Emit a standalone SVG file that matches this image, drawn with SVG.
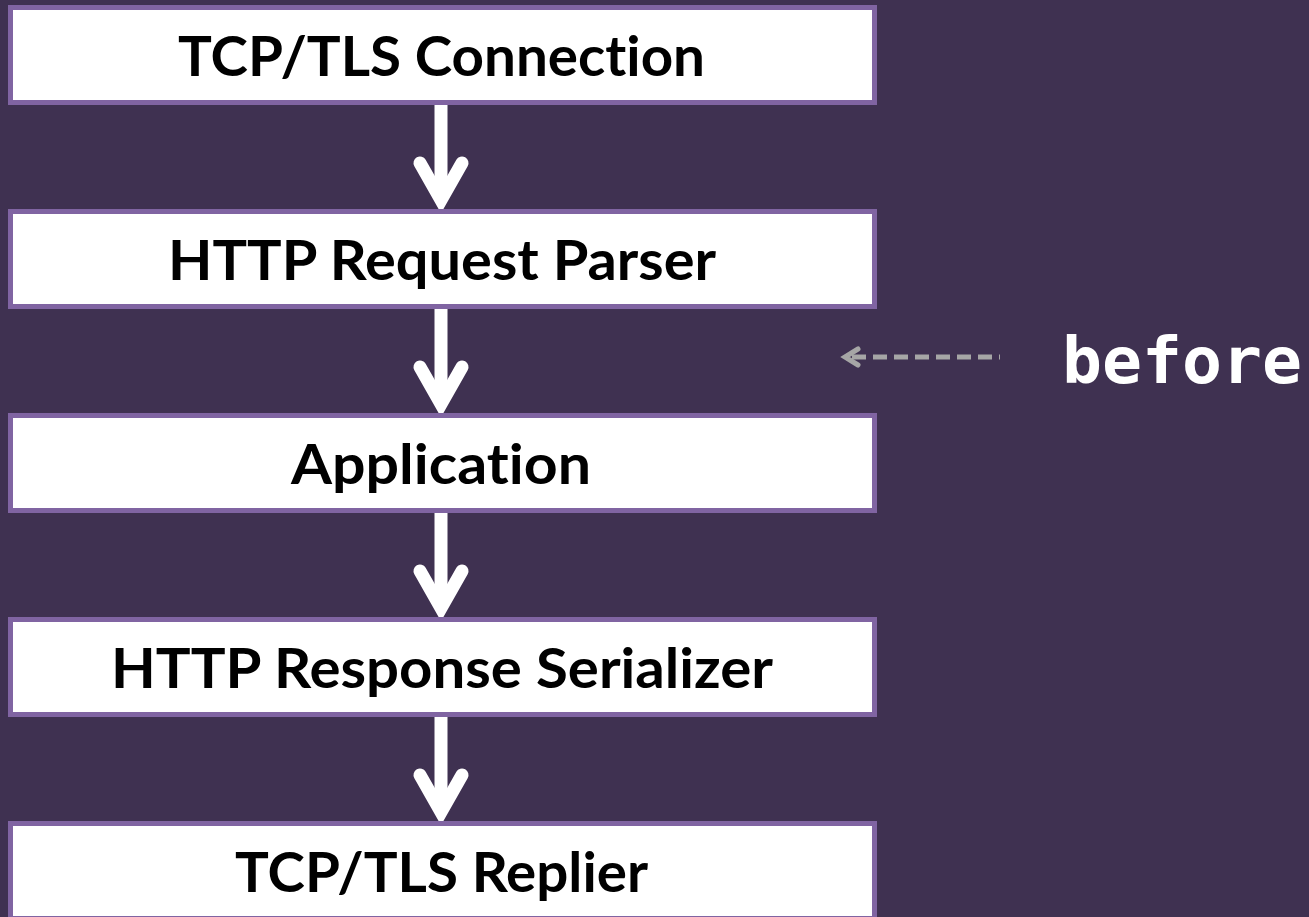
<svg xmlns="http://www.w3.org/2000/svg" width="1309" height="917" viewBox="0 0 1309 917">
<style>
.box{fill:#ffffff;stroke:#8064A2;stroke-width:5}
.lbl{font-family:Lato,"Open Sans","Liberation Sans",sans-serif;font-weight:bold;font-size:56px;fill:#000000;text-anchor:middle;font-variant-ligatures:none;font-feature-settings:"liga" 0}
.conn{stroke:#ffffff;stroke-width:13;fill:none;stroke-linejoin:miter}
.head{stroke:#ffffff;stroke-width:13;fill:none;stroke-linecap:round;stroke-linejoin:miter}
</style>
<rect x="0" y="0" width="1309" height="917" fill="#3F3151"/>
<g id="connectors">
<g><line class="conn" x1="441" y1="104" x2="441" y2="200"/><polyline class="head" points="420,163 441,200 462,163"/></g>
<g><line class="conn" x1="441" y1="308" x2="441" y2="404"/><polyline class="head" points="420,367 441,404 462,367"/></g>
<g><line class="conn" x1="441" y1="512" x2="441" y2="608"/><polyline class="head" points="420,571 441,608 462,571"/></g>
<g><line class="conn" x1="441" y1="716" x2="441" y2="812"/><polyline class="head" points="420,775 441,812 462,775"/></g>
<g id="before-arrow"><line x1="852" y1="357" x2="1000" y2="357" stroke="#A6A6A6" stroke-width="5" stroke-dasharray="14 7"/><polyline points="858,349 845,357 858,365" fill="none" stroke="#A6A6A6" stroke-width="5" stroke-linecap="round"/></g>
</g>
<g id="n1"><rect class="box" x="10.5" y="7.5" width="864" height="95"/><text class="lbl" x="441.5" y="76" textLength="527" lengthAdjust="spacingAndGlyphs">TCP/TLS Connection</text></g>
<g id="n2"><rect class="box" x="10.5" y="211.5" width="864" height="95"/><text class="lbl" x="442" y="280" textLength="548" lengthAdjust="spacingAndGlyphs">HTTP Request Parser</text></g>
<g id="n3"><rect class="box" x="10.5" y="415.5" width="864" height="95"/><text class="lbl" x="441" y="484" textLength="300" lengthAdjust="spacingAndGlyphs">Application</text></g>
<g id="n4"><rect class="box" x="10.5" y="619.5" width="864" height="95"/><text class="lbl" x="442" y="688" textLength="662" lengthAdjust="spacingAndGlyphs">HTTP Response Serializer</text></g>
<g id="n5"><rect class="box" x="10.5" y="823.5" width="864" height="95"/><text class="lbl" x="441.5" y="892" textLength="413" lengthAdjust="spacingAndGlyphs">TCP/TLS Replier</text></g>
<g id="before"><text x="1062" y="383" font-family="'DejaVu Sans Mono','Liberation Mono',monospace" font-weight="bold" font-size="64" fill="#ffffff" textLength="240" lengthAdjust="spacingAndGlyphs">before</text></g>
</svg>
